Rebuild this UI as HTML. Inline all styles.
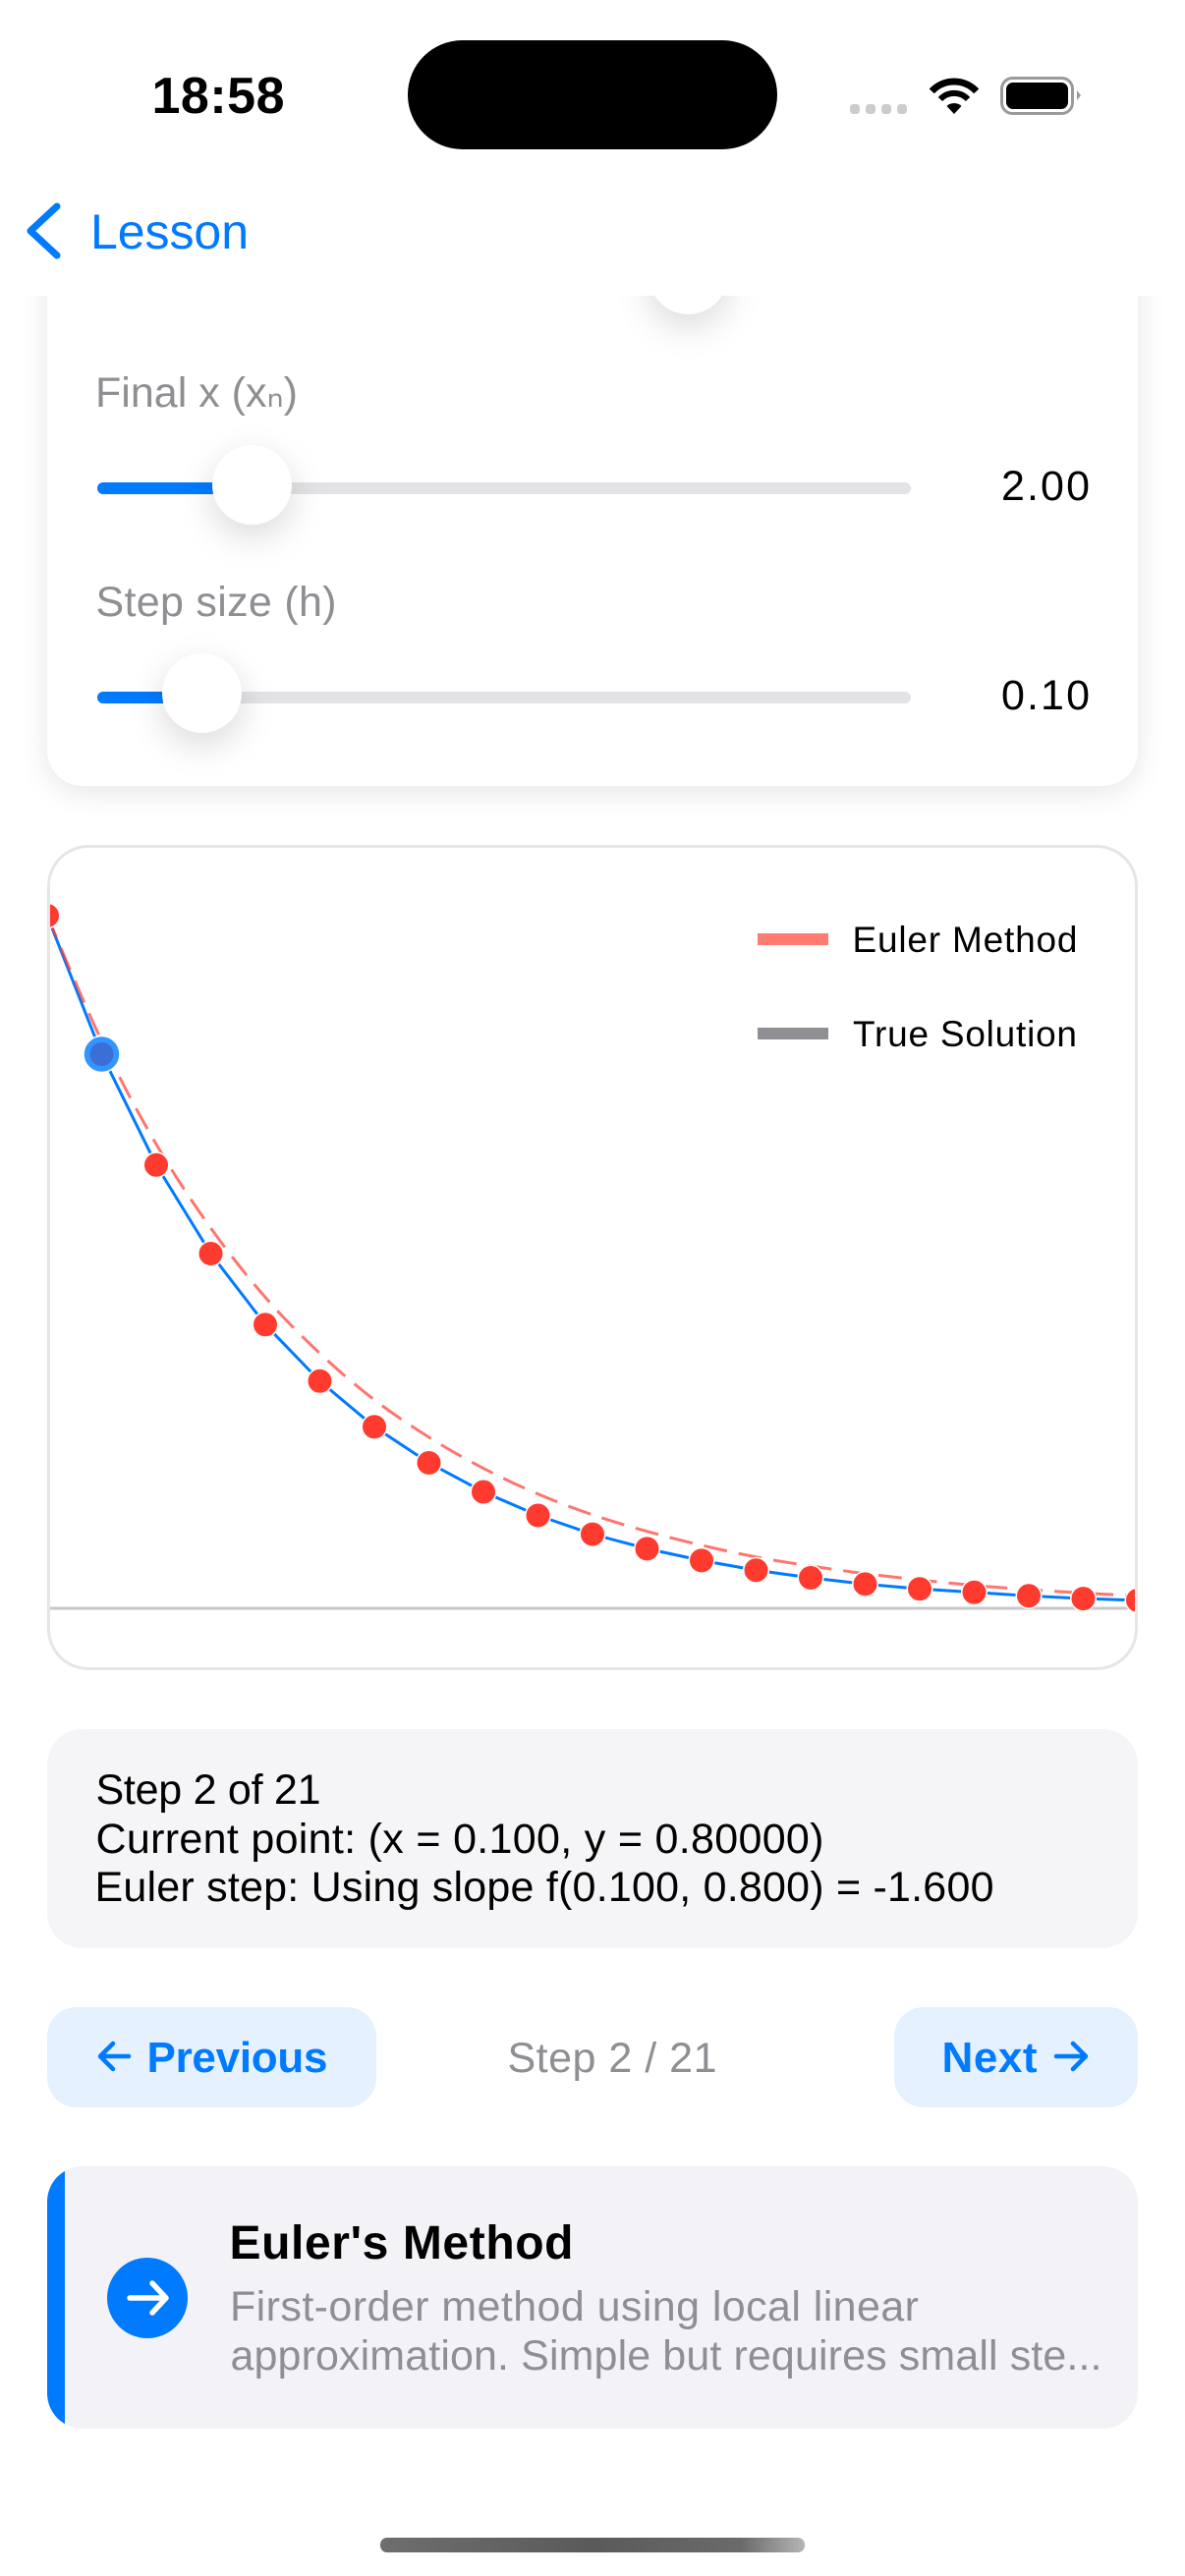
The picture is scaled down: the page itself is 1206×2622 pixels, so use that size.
<!DOCTYPE html>
<html lang="en">
<head>
<meta charset="utf-8">
<title>Euler's Method Lesson</title>
<style>
html,body{margin:0;padding:0;background:#fff;}
body{position:relative;width:1206px;height:2622px;overflow:hidden;font-family:"Liberation Sans",sans-serif;color:#000;}
.t{position:absolute;white-space:nowrap;line-height:1;}
.abs{position:absolute;}
.gray{color:#8e8e93;}
.blue{color:#007aff;}
.scroll{position:absolute;left:0;top:301px;width:1206px;height:2321px;overflow:hidden;}
.card{position:absolute;left:48px;top:-120px;width:1110px;height:619px;background:#fff;border-radius:36px;box-shadow:0 6px 30px rgba(0,0,0,.1);}
.track{position:absolute;left:99px;width:828px;height:12px;border-radius:6px;background:#e3e3e6;}
.fill{position:absolute;left:0;top:0;height:12px;border-radius:6px 0 0 6px;background:#007aff;}
.thumb{position:absolute;width:81px;height:81px;border-radius:50%;background:#fff;box-shadow:0 12px 36px rgba(0,0,0,.15);}
</style>
</head>
<body>

<div class="scroll">
  <div class="card"></div>
  <div class="thumb" style="left:660px;top:-62px"></div>
  <div class="track" style="top:190px"><div class="fill" style="width:118px"></div></div>
  <div class="thumb" style="left:216px;top:152px"></div>
  <div class="track" style="top:403px"><div class="fill" style="width:67px"></div></div>
  <div class="thumb" style="left:165px;top:364px"></div>
</div>

<div class="t gray" style="left:97px;top:378.6px;font-size:43px" data-fit="206">Final x (xₙ)</div>
<div class="t" style="left:1019px;top:474.3px;font-size:43px" data-fit="90">2.00</div>
<div class="t gray" style="left:97.5px;top:591.6px;font-size:43px" data-fit="245">Step size (h)</div>
<div class="t" style="left:1019px;top:686.6px;font-size:43px" data-fit="90">0.10</div>

<!-- status bar and navigation -->
<div class="abs" style="left:0;top:0;width:1206px;height:301px;background:#fff"></div>
<div class="abs" style="left:415px;top:41px;width:376px;height:111px;border-radius:56px;background:#000"></div>
<div class="t" style="left:154.5px;top:72px;font-size:52px;font-weight:bold" data-fit="135">18:58</div>
<svg class="abs" style="left:860px;top:70px" width="245" height="55" viewBox="860 70 245 55">
  <g fill="#cccccc">
    <rect x="865" y="106" width="10" height="10" rx="3.5"/>
    <rect x="881" y="106" width="10" height="10" rx="3.5"/>
    <rect x="897" y="106" width="10" height="10" rx="3.5"/>
    <rect x="913" y="106" width="10" height="10" rx="3.5"/>
  </g>
  <g>
    <path d="M948.3 92.9A31 31 0 0 1 993.7 92.9" fill="none" stroke="#000" stroke-width="7"/>
    <path d="M957 101A19 19 0 0 1 985 101" fill="none" stroke="#000" stroke-width="6"/>
    <path d="M971 116L963.5 108A11 11 0 0 1 978.5 108Z" fill="#000"/>
  </g>
  <g>
    <rect x="1019.5" y="79.5" width="72" height="36" rx="11" fill="none" stroke="#9a9a9a" stroke-width="3"/>
    <rect x="1024" y="84" width="63" height="27" rx="7" fill="#000"/>
    <path d="M1096 92L1100 97L1096 102Z" fill="#9a9a9a"/>
  </g>
</svg>
<svg class="abs" style="left:20px;top:200px" width="50" height="70" viewBox="20 200 50 70">
  <path d="M58 210L31 235L58 260" fill="none" stroke="#007aff" stroke-width="7" stroke-linecap="round" stroke-linejoin="round"/>
</svg>
<div class="t blue" style="left:92px;top:210.7px;font-size:50px" data-fit="161">Lesson</div>

<!-- chart -->
<div class="abs" style="left:48px;top:860px;width:1104px;height:834px;border:3px solid #e5e5ea;border-radius:42px;overflow:hidden;background:#fff">
  <svg id="chart" width="1104" height="834" viewBox="51 863 1104 834" style="display:block"></svg>
</div>
<div class="abs" style="left:771px;top:950px;width:72px;height:12px;background:#ff7a70"></div>
<div class="t" style="left:867.5px;top:937.7px;font-size:37px" data-fit="229">Euler Method</div>
<div class="abs" style="left:771px;top:1046px;width:72px;height:12px;background:#8e8e93"></div>
<div class="t" style="left:868px;top:1033.7px;font-size:37px" data-fit="228">True Solution</div>

<!-- info box -->
<div class="abs" style="left:48px;top:1760px;width:1110px;height:223px;border-radius:36px;background:#f5f5f7"></div>
<div class="t" style="left:97.5px;top:1800.6px;font-size:43px" data-fit="229">Step 2 of 21</div>
<div class="t" style="left:97.5px;top:1850.6px;font-size:43px" data-fit="741">Current point: (x = 0.100, y = 0.80000)</div>
<div class="t" style="left:96.5px;top:1899.6px;font-size:43px" data-fit="915">Euler step: Using slope f(0.100, 0.800) = -1.600</div>

<!-- step controls -->
<div class="abs" style="left:48px;top:2043px;width:335px;height:102px;border-radius:30px;background:#e5f1ff"></div>
<svg class="abs" style="left:95px;top:2075px" width="45" height="40" viewBox="95 2075 45 40">
  <path d="M131 2093H102M115 2080L102 2093L115 2106" fill="none" stroke="#007aff" stroke-width="4.5" stroke-linecap="round" stroke-linejoin="round"/>
</svg>
<div class="t blue" style="left:149.5px;top:2072.8px;font-size:44px;font-weight:bold" data-fit="184">Previous</div>
<div class="t gray" style="left:516.5px;top:2073.6px;font-size:43px" data-fit="213">Step 2 / 21</div>
<div class="abs" style="left:910px;top:2043px;width:248px;height:102px;border-radius:30px;background:#e5f1ff"></div>
<div class="t blue" style="left:958.5px;top:2072.8px;font-size:44px;font-weight:bold" data-fit="97">Next</div>
<svg class="abs" style="left:1068px;top:2075px" width="45" height="40" viewBox="1068 2075 45 40">
  <path d="M1075 2093H1105M1092 2080L1105 2093L1092 2106" fill="none" stroke="#007aff" stroke-width="4.5" stroke-linecap="round" stroke-linejoin="round"/>
</svg>

<!-- method card -->
<div class="abs" style="left:48px;top:2205px;width:1110px;height:267px;border-radius:36px;background:#f2f2f7;overflow:hidden">
  <div class="abs" style="left:0;top:0;width:18px;height:267px;background:#007aff"></div>
</div>
<div class="abs" style="left:109px;top:2298px;width:82px;height:82px;border-radius:50%;background:#007aff"></div>
<svg class="abs" style="left:120px;top:2310px" width="60" height="60" viewBox="120 2310 60 60">
  <path d="M132 2339H168M155 2324L169 2339L155 2354" fill="none" stroke="#fff" stroke-width="5.5" stroke-linecap="round" stroke-linejoin="round"/>
</svg>
<div class="t" style="left:233.5px;top:2259.9px;font-size:48px;font-weight:bold" data-fit="350">Euler's Method</div>
<div class="t gray" style="left:234px;top:2326.6px;font-size:43px" data-fit="701">First-order method using local linear</div>
<div class="t gray" style="left:234.5px;top:2376.6px;font-size:43px" data-fit="887">approximation. Simple but requires small ste...</div>

<div class="abs" style="left:387px;top:2583px;width:432px;height:15px;border-radius:7px;background:linear-gradient(90deg,#6e6e6e,#5a5a5a 50%,#6a6a6a 85%,#b5b5b5)"></div>

<script>
const xValues = [0,0.1,0.2,0.3,0.4,0.5,0.6,0.7,0.8,0.9,1.0,1.1,1.2,1.3,1.4,1.5,1.6,1.7,1.8,1.9,2.0];
const eulerValues = [1,0.8,0.64,0.512,0.4096,0.328,0.262,0.21,0.168,0.134,0.107,0.086,0.069,0.055,0.044,0.035,0.028,0.023,0.018,0.014,0.0115];
const trueValues = [1,0.819,0.67,0.549,0.449,0.368,0.301,0.247,0.202,0.165,0.135,0.111,0.091,0.074,0.061,0.05,0.041,0.033,0.027,0.022,0.018];
const currentStep = 1;

const NS = 'http://www.w3.org/2000/svg';
const chart = document.getElementById('chart');
function xScale(x) { return 48 + (x / 2) * 1110; }
function yScale(y) { return 1637 - y * 705; }
function straightPath(values) {
  return values.map(function (v, i) {
    return (i ? 'L' : 'M') + xScale(xValues[i]).toFixed(2) + ' ' + yScale(v).toFixed(2);
  }).join('');
}
function smoothPath(values) {
  const pts = values.map(function (v, i) { return [xScale(xValues[i]), yScale(v)]; });
  let d = 'M' + pts[0][0].toFixed(2) + ' ' + pts[0][1].toFixed(2);
  for (let i = 0; i < pts.length - 1; i++) {
    const p0 = pts[Math.max(i - 1, 0)];
    const p1 = pts[i];
    const p2 = pts[i + 1];
    const p3 = pts[Math.min(i + 2, pts.length - 1)];
    d += 'C' + (p1[0] + (p2[0] - p0[0]) / 6).toFixed(2) + ' ' + (p1[1] + (p2[1] - p0[1]) / 6).toFixed(2) +
      ' ' + (p2[0] - (p3[0] - p1[0]) / 6).toFixed(2) + ' ' + (p2[1] - (p3[1] - p1[1]) / 6).toFixed(2) +
      ' ' + p2[0].toFixed(2) + ' ' + p2[1].toFixed(2);
  }
  return d;
}

const axis = document.createElementNS(NS, 'line');


axis.setAttribute('x1', xScale(xValues[0]));
axis.setAttribute('x2', xScale(xValues[xValues.length - 1]));
axis.setAttribute('y1', yScale(0));
axis.setAttribute('y2', yScale(0));
axis.setAttribute('stroke', '#c7c7cc');
axis.setAttribute('stroke-width', '3');
chart.appendChild(axis);

const eulerLine = document.createElementNS(NS, 'path');


eulerLine.setAttribute('d', straightPath(eulerValues));
eulerLine.setAttribute('fill', 'none');
eulerLine.setAttribute('stroke', '#007aff');
eulerLine.setAttribute('stroke-width', '3');
chart.appendChild(eulerLine);

const trueLine = document.createElementNS(NS, 'path');


trueLine.setAttribute('d', smoothPath(trueValues));
trueLine.setAttribute('fill', 'none');
trueLine.setAttribute('stroke', '#ff3b30');
trueLine.setAttribute('stroke-opacity', '0.7');
trueLine.setAttribute('stroke-width', '3');
trueLine.setAttribute('stroke-dasharray', '24 12');
chart.appendChild(trueLine);

eulerValues.forEach(function (v, i) {
  const isCurrent = i === currentStep;
  if (isCurrent) {
    const halo = document.createElementNS(NS, 'circle');
    
    
    halo.setAttribute('cx', xScale(xValues[i]));
    halo.setAttribute('cy', yScale(v));
    halo.setAttribute('r', '18.5');
    halo.setAttribute('fill', '#3395ff');
    halo.setAttribute('stroke', '#fff');
    halo.setAttribute('stroke-width', '1.5');
    chart.appendChild(halo);
  }
  const dot = document.createElementNS(NS, 'circle');
  
  
  dot.setAttribute('cx', xScale(xValues[i]));
  dot.setAttribute('cy', yScale(v));
  dot.setAttribute('r', isCurrent ? '12' : '12.75');
  dot.setAttribute('fill', isCurrent ? '#3a70d6' : '#ff3b30');
  dot.setAttribute('stroke', isCurrent ? 'none' : '#fff');
  dot.setAttribute('stroke-width', '1.5');
  chart.appendChild(dot);
});

document.querySelectorAll('[data-fit]').forEach(function (el) {
  const target = parseFloat(el.getAttribute('data-fit'));
  const width = el.getBoundingClientRect().width;
  const count = el.textContent.length;
  if (count > 1) {
    el.style.letterSpacing = ((target - width) / (count - 1)).toFixed(3) + 'px';
  }
});
</script>
</body>
</html>
